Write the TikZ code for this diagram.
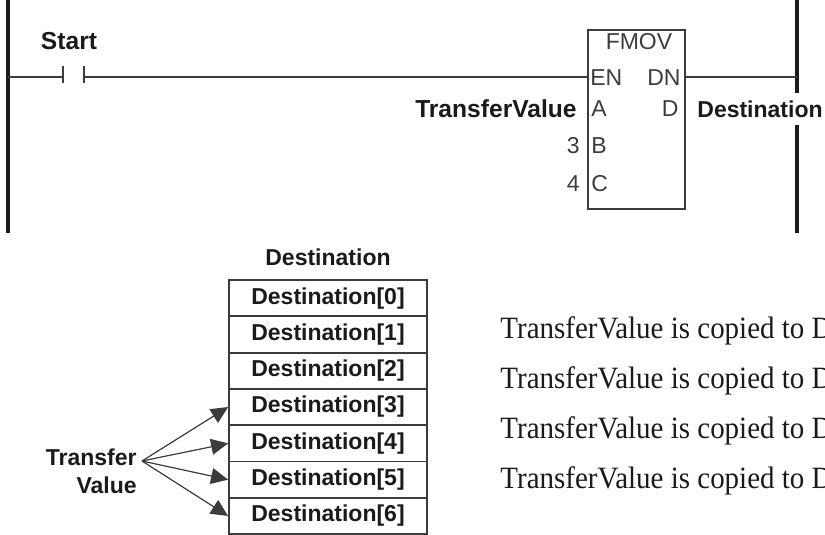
\documentclass[tikz,border=0pt]{standalone}
\usepackage{fontspec}
\setmainfont{Liberation Serif}
\setsansfont{Liberation Sans}
\newfontfamily\condserif[FakeStretch=0.935]{Liberation Serif}
\usepackage{tikz}
\usetikzlibrary{arrows.meta}
\definecolor{LadderInk}{HTML}{1A1A1A}
\definecolor{LadderGray}{HTML}{3C3C3C}

\begin{document}
\begin{tikzpicture}[x=0.5pt,y=-0.5pt,
    every node/.style={font=\sffamily\bfseries\fontsize{11.5}{13}\selectfont, text=LadderInk, inner sep=0pt}]

    \useasboundingbox (0,0) rectangle (825,535);
    \clip (0,0) rectangle (825,535);

    \tikzstyle{rail}=[line width=1.6pt, draw=LadderInk]
    \tikzstyle{wire}=[line width=0.6pt, draw=LadderGray]
    \tikzstyle{pin}=[font=\sffamily\fontsize{11.5}{13}\selectfont, text=LadderGray]
    \tikzstyle{biglabel}=[font=\sffamily\bfseries\fontsize{12.3}{14}\selectfont]
    \tikzstyle{cell}=[
      draw=LadderGray,
      line width=0.9pt,
      minimum width=99pt,
      minimum height=18.15pt
    ]
    \tikzstyle{note}=[font=\condserif\fontsize{15.5}{18}\selectfont, anchor=base west]

    % --- Power rails ---
    \coordinate (lrailtop) at (8,0);
    \coordinate (lrailbot) at (8,233);
    \coordinate (rrailtop) at (797,0);
    \coordinate (rrailgap1) at (797,93);
    \coordinate (rrailgap2) at (797,125);
    \coordinate (rrailbot) at (797,233);
    \draw[rail] (lrailtop) -- (lrailbot);
    \draw[rail] (rrailtop) -- (rrailgap1);
    \draw[rail] (rrailgap2) -- (rrailbot);

    % --- Contact ---
    \node[biglabel] (start) at (69,41) {Start};
    \coordinate (cl) at (63,77);
    \coordinate (cr) at (84,77);
    \draw[wire] (lrailtop |- cl) -- (cl);
    \draw[wire] ([yshift=5.5pt]cl) -- ([yshift=-3pt]cl);
    \draw[wire] ([yshift=5.5pt]cr) -- ([yshift=-3pt]cr);

    % --- FMOV block ---
    \node[draw=LadderGray, line width=0.9pt, minimum width=48.5pt, minimum height=89.5pt] (fmov) at (636.5,119.5) {};
    \node[pin] (title) at (639,42) {FMOV};
    \node[pin, anchor=west] (en) at (590,78) {EN};
    \node[pin, anchor=east] (dn) at (681,78) {DN};
    \node[pin, anchor=west] (pa) at (591,109) {A};
    \node[pin, anchor=east] (pd) at (679,109) {D};
    \node[pin, anchor=west] (pb) at (591,146) {B};
    \node[pin, anchor=west] (pc) at (591,184) {C};

    \node[biglabel, anchor=east] (srcval) at (577,109) {TransferValue};
    \node[pin, anchor=east] (three) at (580,146) {3};
    \node[pin, anchor=east] (four) at (580,184) {4};
    \node[anchor=west] (dstval) at (697,109) {Destination};

    \draw[wire] (cr) -- (fmov.west |- cr);
    \draw[wire] (fmov.east |- cr) -- (rrailtop |- cr);

    % --- Destination array ---
    \node (head) at (328,257) {Destination};
    \foreach \i in {0,...,6}
      \node[cell] (d\i) at (328,{298.15+36.3*\i}) {Destination[\i]};

    % --- Transfer fan ---
    \node[align=right, anchor=east] (tv) at (137,471) {Transfer\\[1pt]Value};
    \coordinate (fan) at (142,461);
    \foreach \i in {3,...,6}
      \draw[wire, -{Triangle[length=8.5pt,width=8pt]}] (fan) -- (d\i.west);

    % --- Notes ---
    \foreach \i/\y in {1/338, 2/388, 3/438, 4/488}
      \node[note] (note\i) at (500,\y) {TransferValue is copied to D};

\end{tikzpicture}
\end{document}
